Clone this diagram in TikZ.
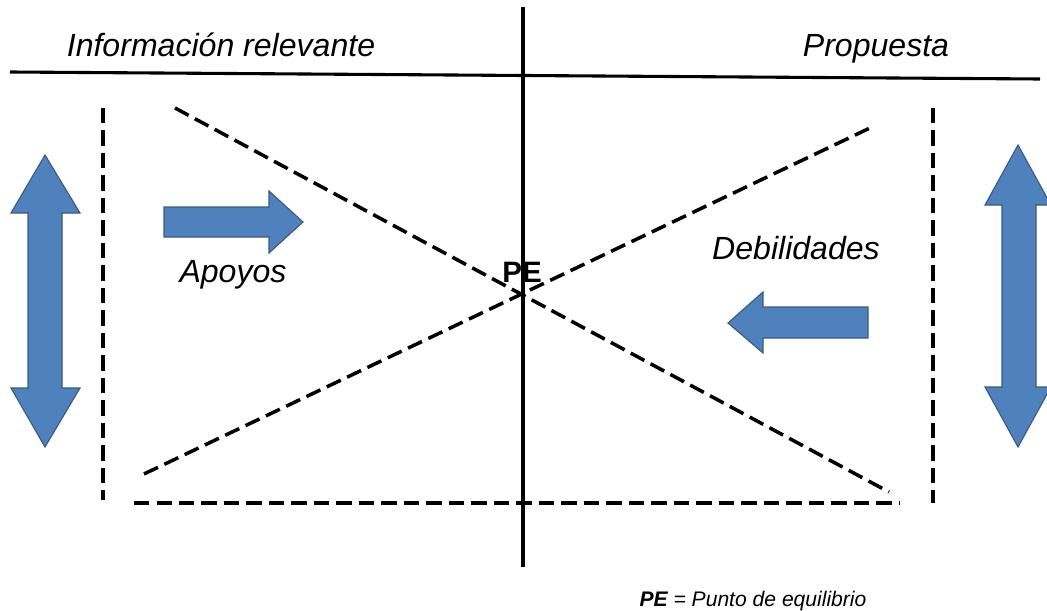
\documentclass[tikz,border=0pt]{standalone}
\usepackage{fontspec}
\setmainfont{Liberation Sans}
\usepackage{xcolor}
\usepackage{tikz}
\usetikzlibrary{positioning, arrows.meta}
\definecolor{bFill}{HTML}{4F81BD}
\definecolor{bLine}{HTML}{3A5A80}
\definecolor{nInk}{HTML}{000000}
\tikzset{
  axisline/.style={draw=nInk, line width=2.2pt},
  guideline/.style={draw=nInk, line width=2.5pt, dash pattern=on 11pt off 5pt},
  blockarrow/.style={fill=bFill, draw=bLine, line width=0.8pt, line join=miter},
  sidelabel/.style={font=\fontsize{22.8}{27}\selectfont\itshape, text=nInk, inner sep=0pt, anchor=base},
  pelabel/.style={font=\fontsize{21}{25}\selectfont\bfseries, text=nInk, inner sep=0pt, anchor=base},
  notelabel/.style={font=\fontsize{15}{18}\selectfont\itshape, text=nInk, inner sep=0pt, anchor=base},
}

\begin{document}
\begin{tikzpicture}[x=0.025cm, y=-0.025cm]
  \useasboundingbox (0,0) rectangle (1047,611);
  % axes
  \coordinate (hl) at (10,72);
  \coordinate (hr) at (1040,79);
  \coordinate (vt) at (523,7);
  \coordinate (vb) at (523,567);
  \draw[axisline] (hl) -- (hr);
  \draw[axisline] (vt) -- (vb);
  \node[sidelabel] (info) at (221,57) {Información relevante};
  \node[sidelabel] (prop) at (876,57) {Propuesta};
  % dashed frame and diagonals
  \coordinate (ltop) at (103,108);
  \coordinate (lbot) at (103,500);
  \coordinate (rtop) at (933,108);
  \coordinate (rbot) at (933,503);
  \coordinate (bl) at (134,503);
  \coordinate (br) at (899,503);
  \coordinate (d1a) at (175,108);
  \coordinate (d1b) at (889,492);
  \coordinate (d2a) at (144,474);
  \coordinate (d2b) at (872,127);
  \draw[guideline] (ltop) -- (lbot);
  \draw[guideline] (rtop) -- (rbot);
  \draw[guideline] (bl) -- (br);
  \draw[guideline] (d1a) -- (d1b);
  \draw[guideline] (d2a) -- (d2b);
  \node[pelabel] (pe) at (522,282) {PE};
  % block arrows
  \draw[blockarrow] (45,155) -- (80,213) -- (62,213) -- (62,388) -- (80,388) -- (45,447)
    -- (11,388) -- (28,388) -- (28,213) -- (11,213) -- cycle;
  \draw[blockarrow] (1018,145) -- (1051,205) -- (1036,205) -- (1036,387) -- (1051,387) -- (1018,447)
    -- (985,387) -- (1002,387) -- (1002,205) -- (985,205) -- cycle;
  \draw[blockarrow] (164,207) -- (269,207) -- (269,191) -- (303,222) -- (269,253) -- (269,237)
    -- (164,237) -- cycle;
  \draw[blockarrow] (868,307) -- (763,307) -- (763,292) -- (728,323) -- (763,353) -- (763,338)
    -- (868,338) -- cycle;
  \node[sidelabel] (apoyos) at (233,282) {Apoyos};
  \node[sidelabel] (debil) at (796,259) {Debilidades};
  \node[notelabel] (nota) at (753,606) {\textbf{PE} = Punto de equilibrio};
\end{tikzpicture}
\end{document}
